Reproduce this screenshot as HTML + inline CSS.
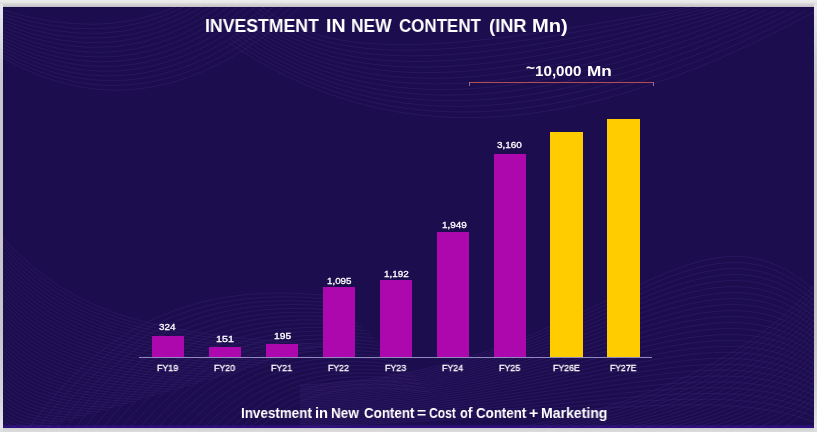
<!DOCTYPE html>
<html>
<head>
<meta charset="utf-8">
<title>Investment in New Content</title>
<style>
html,body{margin:0;padding:0;}
body{width:817px;height:432px;overflow:hidden;background:#e9e9e9;position:relative;font-family:"Liberation Sans",sans-serif;}
#frame{position:absolute;left:0;top:0;width:817px;height:432px;background:linear-gradient(to bottom,#ebebeb 0px,#e9e9e9 2px,#d2d2d4 4.5px,#c2bec8 7px,#c8c8cc 8px,#c8c8cc 426px,#cdcdd0 427.8px,#d6d6d6 429.5px,#dcdcdc 432px);}
.side{position:absolute;top:4px;width:3.4px;height:428px;background:linear-gradient(to bottom,#e6e6ea 0,#e8e6f0 6px,#e2e2ea 20px,#d0d0d8 50px,#c6c6cc 85px,#c6c6cc 330px,#d4d4da 390px,#e4e2ea 422px,#dcdcdc 428px);}
#slide{position:absolute;left:3px;top:7px;width:810.9px;height:420.8px;background:linear-gradient(to bottom,#180a48 0,#1c0d4e 1.5px,#1c0d4e 417.6px,#2a0e74 418.6px,#2f0f80 420.8px);overflow:hidden;}
.t{position:absolute;white-space:nowrap;color:#fff;transform-origin:0 0;line-height:1;font-weight:bold;will-change:transform;}
.s{font-weight:normal;-webkit-text-stroke:0.3px #fff;}
.b{position:absolute;}
.p{background:#ad08ad;}
.y{background:#ffcc00;}
</style>
</head>
<body>
<div id="frame"></div>
<div class="side" style="left:0"></div>
<div class="side" style="left:813.6px"></div>
<div id="slide">
<svg id="waves" width="811" height="420" viewBox="3 7 811 420" style="position:absolute;left:0;top:0" fill="none" stroke="#5a3c9c" stroke-width="0.6" opacity="0.35"><path d="M3.0,10.0Q100.0,40.0 175.0,7.0M3.0,13.4Q103.6,47.3 183.9,7.0M3.0,16.9Q107.1,54.6 192.9,7.0M3.0,20.3Q110.7,61.9 201.8,7.0M3.0,23.7Q114.3,69.1 210.7,7.0M3.0,27.1Q117.9,76.4 219.6,7.0M3.0,30.6Q121.4,83.7 228.6,7.0M3.0,34.0Q125.0,91.0 237.5,7.0M3.0,37.4Q128.6,98.3 246.4,7.0M3.0,40.9Q132.1,105.6 255.4,7.0M3.0,44.3Q135.7,112.9 264.3,7.0M3.0,47.7Q139.3,120.1 273.2,7.0M3.0,51.1Q142.9,127.4 282.1,7.0M3.0,54.6Q146.4,134.7 291.1,7.0M3.0,58.0Q150.0,142.0 300.0,7.0M262.0,7.0C330.0,62.0 450.0,52.0 690.0,7.0M259.4,9.7C333.8,68.4 458.5,59.5 699.5,7.4M256.8,12.4C337.7,74.8 466.9,67.1 709.1,7.8M254.2,15.1C341.5,81.2 475.4,74.6 718.6,8.2M251.5,17.8C345.4,87.5 483.8,82.2 728.2,8.5M248.9,20.5C349.2,93.9 492.3,89.7 737.7,8.9M246.3,23.2C353.1,100.3 500.8,97.2 747.2,9.3M243.7,25.8C356.9,106.7 509.2,104.8 756.8,9.7M241.1,28.5C360.8,113.1 517.7,112.3 766.3,10.1M238.5,31.2C364.6,119.5 526.2,119.8 775.8,10.5M235.8,33.9C368.5,125.8 534.6,127.4 785.4,10.8M233.2,36.6C372.3,132.2 543.1,134.9 794.9,11.2M230.6,39.3C376.2,138.6 551.5,142.5 804.5,11.6M228.0,42.0C380.0,145.0 560.0,150.0 814.0,12.0M3.0,238.0C70.0,310.0 140.0,335.0 330.0,345.0M3.0,242.3C68.6,312.8 137.2,337.3 323.0,347.0M3.0,246.7C67.2,315.6 134.4,339.5 316.0,349.0M3.0,251.0C65.8,318.4 131.6,341.8 309.1,351.1M3.0,255.4C64.4,321.2 128.8,344.0 302.1,353.1M3.0,259.7C63.0,324.0 126.0,346.3 295.1,355.1M3.0,264.1C61.6,326.7 123.3,348.5 288.1,357.1M3.0,268.4C60.2,329.5 120.5,350.8 281.2,359.2M3.0,272.8C58.8,332.3 117.7,353.0 274.2,361.2M3.0,277.1C57.4,335.1 114.9,355.3 267.2,363.2M3.0,281.5C56.0,337.9 112.1,357.6 260.2,365.2M3.0,285.8C54.7,340.7 109.3,359.8 253.3,367.3M3.0,290.2C53.3,343.5 106.5,362.1 246.3,369.3M3.0,294.5C51.9,346.3 103.7,364.3 239.3,371.3M3.0,298.9C50.5,349.1 100.9,366.6 232.3,373.3M3.0,303.2C49.1,351.9 98.1,368.8 225.3,375.3M3.0,307.6C47.7,354.7 95.3,371.1 218.4,377.4M3.0,311.9C46.3,357.4 92.6,373.3 211.4,379.4M3.0,316.3C44.9,360.2 89.8,375.6 204.4,381.4M3.0,320.6C43.5,363.0 87.0,377.9 197.4,383.4M3.0,325.0C42.1,365.8 84.2,380.1 190.5,385.5M3.0,329.3C40.7,368.6 81.4,382.4 183.5,387.5M3.0,333.7C39.3,371.4 78.6,384.6 176.5,389.5M3.0,338.0C37.9,374.2 75.8,386.9 169.5,391.5M3.0,342.4C36.5,377.0 73.0,389.1 162.6,393.6M3.0,346.7C35.1,379.8 70.2,391.4 155.6,395.6M3.0,351.1C33.7,382.6 67.4,393.7 148.6,397.6M3.0,355.4C32.3,385.3 64.7,395.9 141.6,399.6M3.0,359.8C30.9,388.1 61.9,398.2 134.7,401.7M3.0,364.1C29.5,390.9 59.1,400.4 127.7,403.7M3.0,368.5C28.1,393.7 56.3,402.7 120.7,405.7M3.0,372.8C26.7,396.5 53.5,404.9 113.7,407.7M3.0,377.2C25.3,399.3 50.7,407.2 106.7,409.7M3.0,381.5C24.0,402.1 47.9,409.4 99.8,411.8M3.0,385.9C22.6,404.9 45.1,411.7 92.8,413.8M3.0,390.2C21.2,407.7 42.3,414.0 85.8,415.8M3.0,394.6C19.8,410.5 39.5,416.2 78.8,417.8M3.0,398.9C18.4,413.3 36.7,418.5 71.9,419.9M3.0,403.3C17.0,416.0 34.0,420.7 64.9,421.9M3.0,407.6C15.6,418.8 31.2,423.0 57.9,423.9M3.0,412.0C14.2,421.6 28.4,425.2 50.9,425.9M3.0,416.3C12.8,424.4 25.6,427.5 44.0,428.0M3.0,420.7C11.4,427.2 22.8,429.7 37.0,430.0M3.0,425.0C10.0,430.0 20.0,432.0 30.0,432.0M30.0,427.0C100.0,330.0 190.0,280.0 330.0,296.0M39.2,427.0C108.0,332.6 196.0,284.0 334.0,299.8M48.4,427.0C116.0,335.2 202.0,288.0 338.0,303.7M57.6,427.0C124.0,337.8 208.0,292.0 342.0,307.5M66.8,427.0C132.0,340.4 214.0,296.0 346.0,311.4M76.0,427.0C140.0,343.0 220.0,300.0 350.0,315.2M85.2,427.0C148.0,345.6 226.0,304.0 354.0,319.0M94.4,427.0C156.0,348.2 232.0,308.0 358.0,322.9M103.6,427.0C164.0,350.8 238.0,312.0 362.0,326.7M112.8,427.0C172.0,353.4 244.0,316.0 366.0,330.6M122.0,427.0C180.0,356.0 250.0,320.0 370.0,334.4M131.2,427.0C188.0,358.6 256.0,324.0 374.0,338.2M140.4,427.0C196.0,361.2 262.0,328.0 378.0,342.1M149.6,427.0C204.0,363.8 268.0,332.0 382.0,345.9M158.8,427.0C212.0,366.4 274.0,336.0 386.0,349.8M168.0,427.0C220.0,369.0 280.0,340.0 390.0,353.6M177.2,427.0C228.0,371.6 286.0,344.0 394.0,357.4M186.4,427.0C236.0,374.2 292.0,348.0 398.0,361.3M195.6,427.0C244.0,376.8 298.0,352.0 402.0,365.1M204.8,427.0C252.0,379.4 304.0,356.0 406.0,369.0M214.0,427.0C260.0,382.0 310.0,360.0 410.0,372.8M223.2,427.0C268.0,384.6 316.0,364.0 414.0,376.6M232.4,427.0C276.0,387.2 322.0,368.0 418.0,380.5M241.6,427.0C284.0,389.8 328.0,372.0 422.0,384.3M250.8,427.0C292.0,392.4 334.0,376.0 426.0,388.2M260.0,427.0C300.0,395.0 340.0,380.0 430.0,392.0M300.0,385.0C600.0,375.0 690.0,180.0 814.0,290.0M300.0,386.7C598.4,376.7 691.2,188.2 814.0,295.3M300.0,388.4C596.8,378.4 692.4,196.4 814.0,300.6M300.0,390.0C595.2,380.2 693.6,204.6 814.0,305.8M300.0,391.7C593.6,381.9 694.8,212.8 814.0,311.1M300.0,393.4C592.0,383.6 696.0,221.0 814.0,316.4M300.0,395.1C590.4,385.3 697.2,229.2 814.0,321.7M300.0,396.8C588.8,387.0 698.4,237.4 814.0,327.0M300.0,398.4C587.2,388.8 699.6,245.6 814.0,332.2M300.0,400.1C585.6,390.5 700.8,253.8 814.0,337.5M300.0,401.8C584.0,392.2 702.0,262.0 814.0,342.8M300.0,403.5C582.4,393.9 703.2,270.2 814.0,348.1M300.0,405.2C580.8,395.6 704.4,278.4 814.0,353.4M300.0,406.8C579.2,397.4 705.6,286.6 814.0,358.6M300.0,408.5C577.6,399.1 706.8,294.8 814.0,363.9M300.0,410.2C576.0,400.8 708.0,303.0 814.0,369.2M300.0,411.9C574.4,402.5 709.2,311.2 814.0,374.5M300.0,413.6C572.8,404.2 710.4,319.4 814.0,379.8M300.0,415.2C571.2,406.0 711.6,327.6 814.0,385.0M300.0,416.9C569.6,407.7 712.8,335.8 814.0,390.3M300.0,418.6C568.0,409.4 714.0,344.0 814.0,395.6M300.0,420.3C566.4,411.1 715.2,352.2 814.0,400.9M300.0,422.0C564.8,412.8 716.4,360.4 814.0,406.2M300.0,423.6C563.2,414.6 717.6,368.6 814.0,411.4M300.0,425.3C561.6,416.3 718.8,376.8 814.0,416.7M300.0,427.0C560.0,418.0 720.0,385.0 814.0,422.0M520.0,427.0C650.0,405.0 760.0,350.0 814.0,285.0M532.6,427.0C657.1,405.6 762.3,352.9 814.0,290.7M545.2,427.0C664.3,406.1 764.6,355.7 814.0,296.3M557.9,427.0C671.4,406.7 766.9,358.6 814.0,302.0M570.5,427.0C678.6,407.3 769.1,361.4 814.0,307.7M583.1,427.0C685.7,407.9 771.4,364.3 814.0,313.3M595.7,427.0C692.9,408.4 773.7,367.1 814.0,319.0M608.3,427.0C700.0,409.0 776.0,370.0 814.0,324.7M621.0,427.0C707.1,409.6 778.3,372.9 814.0,330.3M633.6,427.0C714.3,410.1 780.6,375.7 814.0,336.0M646.2,427.0C721.4,410.7 782.9,378.6 814.0,341.7M658.8,427.0C728.6,411.3 785.1,381.4 814.0,347.3M671.4,427.0C735.7,411.9 787.4,384.3 814.0,353.0M684.0,427.0C742.9,412.4 789.7,387.1 814.0,358.7M696.7,427.0C750.0,413.0 792.0,390.0 814.0,364.3M709.3,427.0C757.1,413.6 794.3,392.9 814.0,370.0M721.9,427.0C764.3,414.1 796.6,395.7 814.0,375.7M734.5,427.0C771.4,414.7 798.9,398.6 814.0,381.3M747.1,427.0C778.6,415.3 801.1,401.4 814.0,387.0M759.8,427.0C785.7,415.9 803.4,404.3 814.0,392.7M772.4,427.0C792.9,416.4 805.7,407.1 814.0,398.3M785.0,427.0C800.0,417.0 808.0,410.0 814.0,404.0"/></svg>
</div>
<!-- bracket -->
<div class="b" style="left:469px;top:82.4px;width:184.6px;height:1px;background:#b44e56;"></div>
<div class="b" style="left:468.8px;top:82.4px;width:1px;height:4px;background:#8f6a9a;"></div>
<div class="b" style="left:652.6px;top:82.4px;width:1px;height:4px;background:#8f6a9a;"></div>
<!-- axis -->

<!-- bars -->
<div class="b p" style="left:151.9px;top:336.0px;width:32.3px;height:21.4px;"></div>
<div class="b p" style="left:208.6px;top:346.9px;width:32.5px;height:10.5px;"></div>
<div class="b p" style="left:265.6px;top:344.4px;width:32.4px;height:13.0px;"></div>
<div class="b p" style="left:322.5px;top:286.5px;width:32.4px;height:70.9px;"></div>
<div class="b p" style="left:380px;top:280.1px;width:32px;height:77.3px;"></div>
<div class="b p" style="left:436.8px;top:231.5px;width:32.2px;height:125.9px;"></div>
<div class="b p" style="left:493.8px;top:153.7px;width:32.2px;height:203.7px;"></div>
<div class="b y" style="left:550px;top:132.2px;width:32.9px;height:225.2px;"></div>
<div class="b y" style="left:607px;top:119.3px;width:32.8px;height:238.1px;"></div>
<div class="t" style="left:526.2px;top:61px;font-size:14.8px;transform:scaleX(1.04)">~</div>
<div class="b" style="left:139px;top:357px;width:513.4px;height:1px;background:#9f96cc;opacity:.9"></div>
<div class="t" style="left:204.85px;top:15.70px;font-size:19.2px;transform:scaleX(0.9211)">INVESTMENT</div>
<div class="t" style="left:325.92px;top:15.70px;font-size:19.2px;transform:scaleX(1.0209)">IN</div>
<div class="t" style="left:351.27px;top:15.70px;font-size:19.2px;transform:scaleX(0.9057)">NEW</div>
<div class="t" style="left:399.44px;top:15.70px;font-size:19.2px;transform:scaleX(0.8828)">CONTENT</div>
<div class="t" style="left:489.25px;top:15.70px;font-size:19.2px;transform:scaleX(0.9526)">(INR</div>
<div class="t" style="left:532.39px;top:15.70px;font-size:19.2px;transform:scaleX(1.0500)">Mn)</div>
<div class="t" style="left:535.47px;top:64.00px;font-size:14.8px;transform:scaleX(1.0263)">10,000</div>
<div class="t" style="left:586.54px;top:64.00px;font-size:14.8px;transform:scaleX(1.1590)">Mn</div>
<div class="t" style="left:240.65px;top:405.60px;font-size:14.2px;transform:scaleX(0.9464)">Investment</div>
<div class="t" style="left:315.26px;top:405.60px;font-size:14.2px;transform:scaleX(1.0419)">in</div>
<div class="t" style="left:331.25px;top:405.60px;font-size:14.2px;transform:scaleX(0.9522)">New</div>
<div class="t" style="left:363.83px;top:405.60px;font-size:14.2px;transform:scaleX(0.9415)">Content</div>
<div class="t" style="left:417.45px;top:405.60px;font-size:14.2px;transform:scaleX(1.1034)">=</div>
<div class="t" style="left:429.27px;top:405.60px;font-size:14.2px;transform:scaleX(0.8516)">Cost</div>
<div class="t" style="left:460.35px;top:405.60px;font-size:14.2px;transform:scaleX(0.9000)">of</div>
<div class="t" style="left:476.23px;top:405.60px;font-size:14.2px;transform:scaleX(0.9377)">Content</div>
<div class="t" style="left:529.44px;top:405.60px;font-size:14.2px;transform:scaleX(1.1172)">+</div>
<div class="t" style="left:541.31px;top:405.60px;font-size:14.2px;transform:scaleX(0.9908)">Marketing</div>
<div class="t s" style="left:159.34px;top:322.50px;font-size:9.3px;transform:scaleX(1.0600)">324</div>
<div class="t s" style="left:215.53px;top:334.60px;font-size:9.3px;transform:scaleX(1.1579)">151</div>
<div class="t s" style="left:274.17px;top:331.90px;font-size:9.3px;transform:scaleX(1.1034)">195</div>
<div class="t s" style="left:327.41px;top:276.50px;font-size:9.3px;transform:scaleX(1.0517)">1,095</div>
<div class="t s" style="left:384.20px;top:269.50px;font-size:9.3px;transform:scaleX(1.0607)">1,192</div>
<div class="t s" style="left:441.60px;top:220.80px;font-size:9.3px;transform:scaleX(1.0652)">1,949</div>
<div class="t s" style="left:497.33px;top:140.90px;font-size:9.3px;transform:scaleX(1.0681)">3,160</div>
<div class="t s" style="left:156.97px;top:363.60px;font-size:9.1px;transform:scaleX(0.9735)">FY19</div>
<div class="t s" style="left:213.87px;top:363.60px;font-size:9.1px;transform:scaleX(0.9687)">FY20</div>
<div class="t s" style="left:271.07px;top:363.60px;font-size:9.1px;transform:scaleX(0.9707)">FY21</div>
<div class="t s" style="left:328.28px;top:363.60px;font-size:9.1px;transform:scaleX(0.9610)">FY22</div>
<div class="t s" style="left:384.77px;top:363.60px;font-size:9.1px;transform:scaleX(0.9735)">FY23</div>
<div class="t s" style="left:441.67px;top:363.60px;font-size:9.1px;transform:scaleX(0.9687)">FY24</div>
<div class="t s" style="left:498.67px;top:363.60px;font-size:9.1px;transform:scaleX(0.9735)">FY25</div>
<div class="t s" style="left:553.23px;top:363.60px;font-size:9.1px;transform:scaleX(0.9626)">FY26E</div>
<div class="t s" style="left:610.19px;top:363.60px;font-size:9.1px;transform:scaleX(0.9458)">FY27E</div>
</body>
</html>
